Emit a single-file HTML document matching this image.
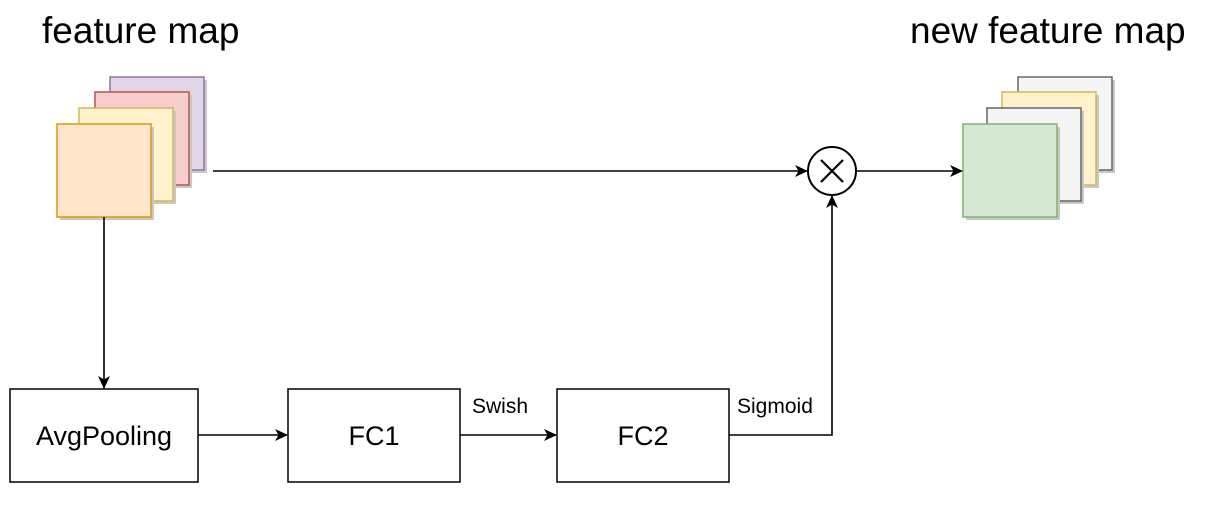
<!DOCTYPE html>
<html><head><meta charset="utf-8"><style>
html,body{margin:0;padding:0;background:#fff;}
svg{display:block;}
text{font-family:"Liberation Sans",Arial,sans-serif;fill:#000;}
</style></head><body>
<svg width="1221" height="507" viewBox="0 0 1221 507" xmlns="http://www.w3.org/2000/svg">
<defs>
<marker id="a" markerWidth="14" markerHeight="14" refX="12" refY="6" orient="auto" markerUnits="userSpaceOnUse">
<path d="M0,0 L13,6 L0,12 L3.5,6 Z" fill="#000"/>
</marker>
</defs>
<text x="42" y="43" font-size="37">feature map</text>
<text x="910" y="43" font-size="37">new feature map</text>

<g stroke-width="1.5">
<rect x="113" y="80" width="94" height="93" fill="#c8c8c8" stroke="none"/>
<rect x="110" y="77" width="94" height="93" fill="#e1d5e7" stroke="#9673a6"/>
<rect x="98" y="95" width="94" height="93" fill="#c8c8c8" stroke="none"/>
<rect x="95" y="92" width="94" height="93" fill="#f8cecc" stroke="#b85450"/>
<rect x="82" y="111" width="94" height="93" fill="#c8c8c8" stroke="none"/>
<rect x="79" y="108" width="94" height="93" fill="#fff2cc" stroke="#d6b656"/>
<rect x="60" y="127" width="94" height="93" fill="#c8c8c8" stroke="none"/>
<rect x="57" y="124" width="94" height="93" fill="#ffe6cc" stroke="#d79b00"/>
</g>
<g stroke-width="1.5">
<rect x="1021" y="80" width="94" height="93" fill="#c8c8c8" stroke="none"/>
<rect x="1018" y="77" width="94" height="93" fill="#f5f5f5" stroke="#666"/>
<rect x="1005" y="95" width="94" height="93" fill="#c8c8c8" stroke="none"/>
<rect x="1002" y="92" width="94" height="93" fill="#fff2cc" stroke="#d6b656"/>
<rect x="990" y="111" width="94" height="93" fill="#c8c8c8" stroke="none"/>
<rect x="987" y="108" width="94" height="93" fill="#f5f5f5" stroke="#666"/>
<rect x="966" y="127" width="94" height="93" fill="#c8c8c8" stroke="none"/>
<rect x="963" y="124" width="94" height="93" fill="#d5e8d4" stroke="#82b366"/>
</g>

<g stroke="#000" stroke-width="1.6" fill="none">
<line x1="213" y1="171" x2="807" y2="171" marker-end="url(#a)"/>
<line x1="857" y1="171" x2="962" y2="171" marker-end="url(#a)"/>
<line x1="104" y1="217" x2="104" y2="388" marker-end="url(#a)"/>
<line x1="198" y1="435" x2="287" y2="435" marker-end="url(#a)"/>
<line x1="460" y1="435" x2="556" y2="435" marker-end="url(#a)"/>
<polyline points="729,435 832,435 832,196" marker-end="url(#a)"/>
</g>
<circle cx="832" cy="171" r="24" fill="#fff" stroke="#000" stroke-width="2"/>
<path d="M821,160 L843,182 M843,160 L821,182" stroke="#000" stroke-width="2.2"/>

<g fill="#fff" stroke="#000" stroke-width="1.5">
<rect x="10" y="389" width="188" height="93"/>
<rect x="288" y="389" width="172" height="93"/>
<rect x="557" y="389" width="172" height="93"/>
</g>
<text x="104" y="445" font-size="27" text-anchor="middle">AvgPooling</text>
<text x="374" y="445" font-size="27" text-anchor="middle">FC1</text>
<text x="643" y="445" font-size="27" text-anchor="middle">FC2</text>
<text x="472" y="413" font-size="21">Swish</text>
<text x="737" y="413" font-size="21">Sigmoid</text>
</svg>
</body></html>
